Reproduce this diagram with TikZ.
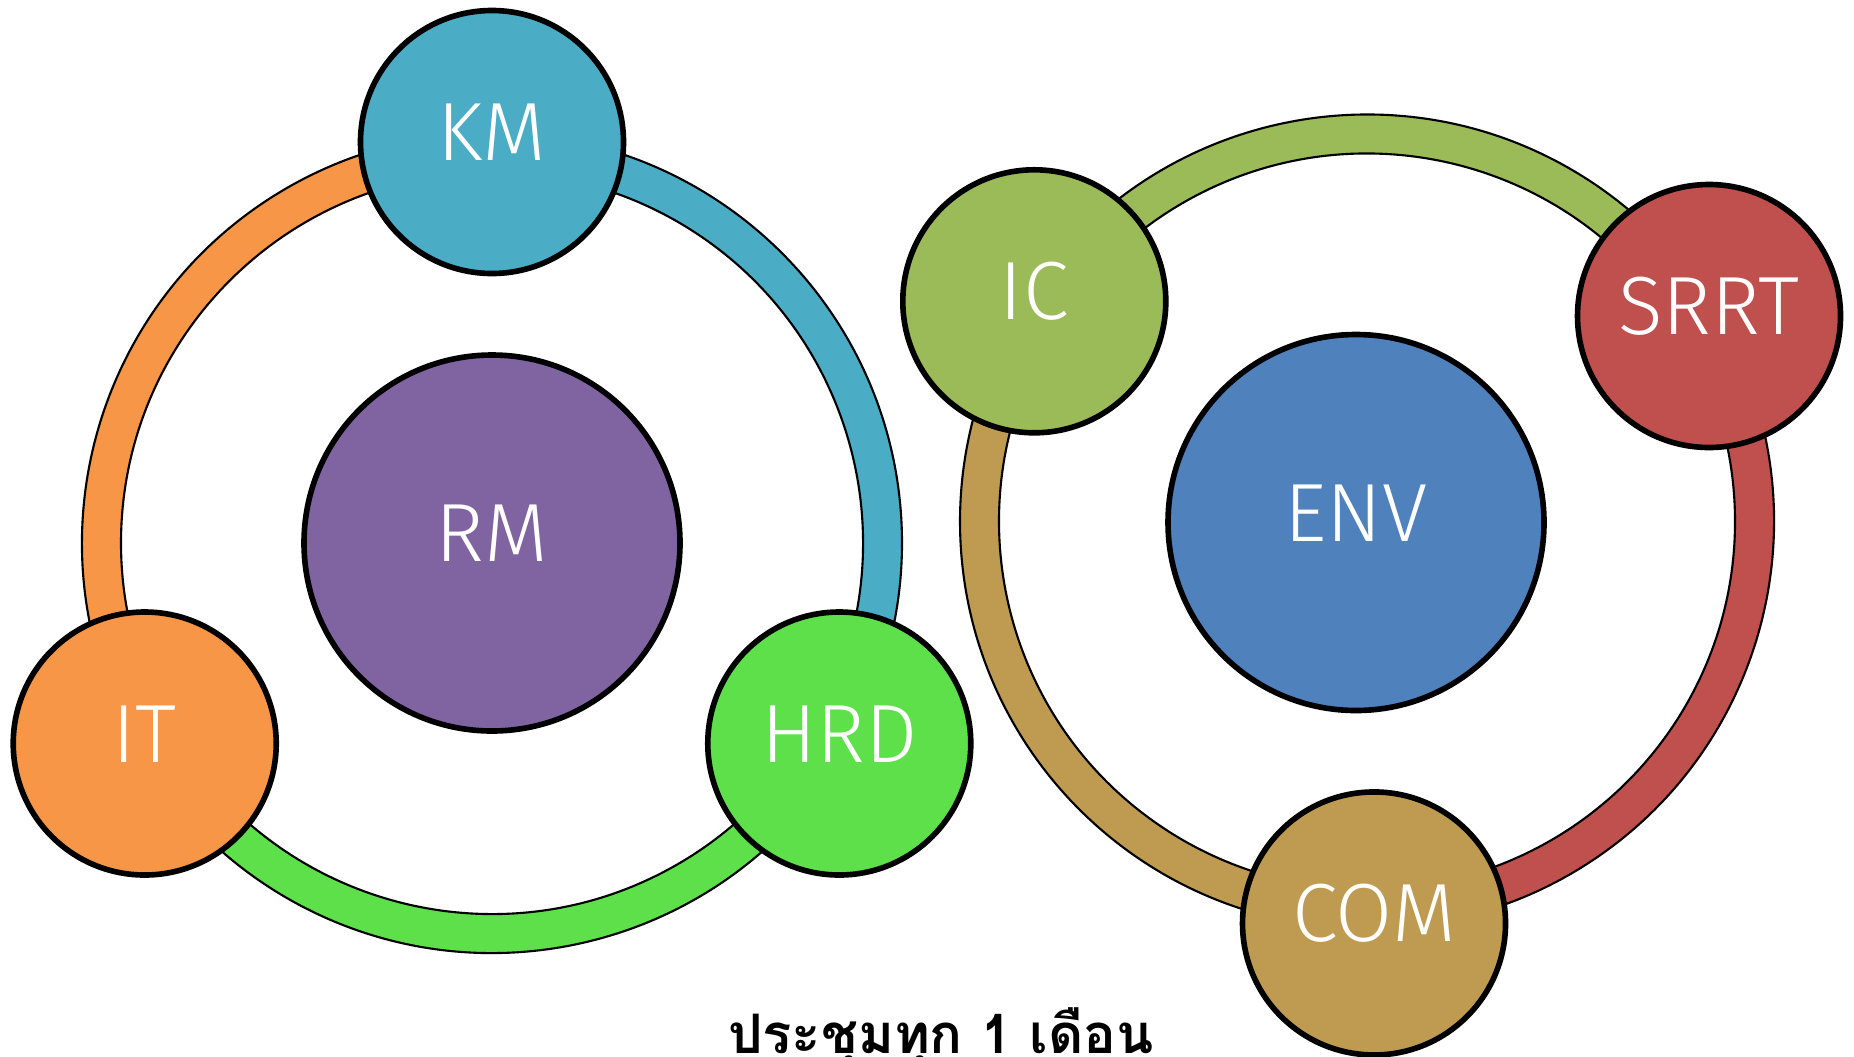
\documentclass[tikz,border=0pt]{standalone}
\usepackage{fontspec}
\newfontfamily\lblfont{Fira Sans Light}
\newfontfamily\thaifont[Script=Thai]{Loma}
\definecolor{kmblue}{HTML}{4BACC6}
\definecolor{rmpurple}{HTML}{8064A2}
\definecolor{itorange}{HTML}{F79646}
\definecolor{hrdgreen}{HTML}{5EE04A}
\definecolor{icgreen}{HTML}{9BBB59}
\definecolor{srrtred}{HTML}{C0504D}
\definecolor{comtan}{HTML}{BF9B52}
\definecolor{envblue}{HTML}{4F81BD}

\begin{document}
\begin{tikzpicture}[
  unit/.style={circle,draw=black,line width=1.6pt,inner sep=0pt,minimum size=2.63cm,
    text=white,text height=0.57cm,text depth=0.2cm,font=\lblfont\fontsize{23.5}{28}\selectfont},
  hub/.style={unit,minimum size=3.76cm},
  band/.style={draw=black,line width=0.6pt}]
\useasboundingbox (0,0) rectangle (18.54,-10.56);

% left ring
\coordinate (l) at (4.92,-5.43);

\filldraw[band,fill=kmblue] ([shift={(90:4.10)}]l) arc (90:-30:4.10)
  -- ([shift={(-30:3.71)}]l) arc (-30:90:3.71) -- cycle;
\filldraw[band,fill=hrdgreen] ([shift={(-30:4.10)}]l) arc (-30:-150:4.10)
  -- ([shift={(-150:3.71)}]l) arc (-150:-30:3.71) -- cycle;
\filldraw[band,fill=itorange] ([shift={(210:4.10)}]l) arc (210:90:4.10)
  -- ([shift={(90:3.71)}]l) arc (90:210:3.71) -- cycle;

\node[hub,fill=rmpurple] (rm) at (l) {RM};
\node[unit,fill=kmblue] (km) at ([shift={(90:4.01)}]l) {KM};
\node[unit,fill=itorange] (it) at ([shift={(210:4.01)}]l) {IT};
\node[unit,fill=hrdgreen] (hrd) at ([shift={(330:4.01)}]l) {HRD};

% right ring
\coordinate (r) at (13.67,-5.215);

\filldraw[band,fill=icgreen] ([shift={(146.5:4.07)}]r) arc (146.5:31:4.07)
  -- ([shift={(31:3.68)}]r) arc (31:146.5:3.68) -- cycle;
\filldraw[band,fill=srrtred] ([shift={(31:4.07)}]r) arc (31:-89:4.07)
  -- ([shift={(-89:3.68)}]r) arc (-89:31:3.68) -- cycle;
\filldraw[band,fill=comtan] ([shift={(-89:4.07)}]r) arc (-89:-213.5:4.07)
  -- ([shift={(-213.5:3.68)}]r) arc (-213.5:-89:3.68) -- cycle;

\node[hub,fill=envblue] (env) at (13.56,-5.225) {ENV};
\node[unit,fill=icgreen] (ic) at ([shift={(146.5:3.99)}]r) {IC};
\node[unit,fill=srrtred] (srrt) at ([shift={(31:3.99)}]r) {SRRT};
\node[unit,fill=comtan] (com) at ([shift={(-89:4.02)}]r) {COM};

\node[anchor=base,font=\thaifont\bfseries\fontsize{15.5}{19}\selectfont] (title)
  at (9.41,-10.533) {ประชุมทุก 1 เดือน};

\end{tikzpicture}
\end{document}
